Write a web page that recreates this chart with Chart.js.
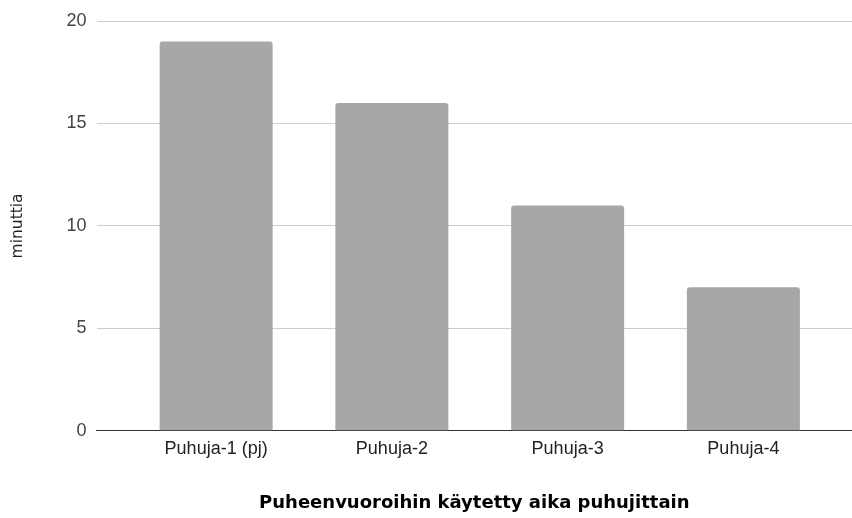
<!DOCTYPE html>
<html>
<head>
<meta charset="utf-8">
<script src="https://cdn.jsdelivr.net/npm/chart.js@4"></script>
<style>
  html, body { margin: 0; padding: 0; background: #fff; }
  #wrap { width: 852px; height: 518px; }
</style>
</head>
<body>
<div id="wrap"><canvas id="c" width="852" height="518"></canvas></div>
<script>
const categories = ['Puhuja-1 (pj)', 'Puhuja-2', 'Puhuja-3', 'Puhuja-4'];
const minutes = [19, 16, 11, 7];
const yTicks = [0, 5, 10, 15, 20];
const xTitle = 'Puheenvuoroihin käytetty aika puhujittain';
const yTitle = 'minuttia';

const points = minutes.map((v, i) => ({ x: i, y: v }));

new Chart(document.getElementById('c'), {
  type: 'bar',
  data: {
    datasets: [{
      data: points,
      backgroundColor: '#a7a7a7',
      borderRadius: 3,
      borderSkipped: 'bottom',
      barPercentage: 0.643,
      categoryPercentage: 1
    }]
  },
  options: {
    responsive: false,
    animation: false,
    layout: { padding: { top: 21, right: 0, bottom: 0, left: 0 } },
    plugins: { legend: { display: false }, tooltip: { enabled: false } },
    scales: {
      x: {
        type: 'linear',
        offset: false,
        min: -0.68,
        max: 3.618,
        afterBuildTicks: s => { s.ticks = categories.map((_, i) => ({ value: i })); },
        grid: { display: false, drawTicks: false },
        border: { display: true, color: '#333', width: 1 },
        ticks: {
          padding: 7,
          color: '#222',
          maxRotation: 0,
          autoSkip: false,
          font: { family: 'Liberation Sans, Arial', size: 18 },
          callback: v => categories[v] ?? ''
        },
        title: {
          display: true,
          text: xTitle,
          color: '#000',
          font: { family: 'DejaVu Sans', size: 18, weight: 'bold' },
          padding: { top: 26, bottom: 4 }
        }
      },
      y: {
        min: 0,
        max: 20,
        afterBuildTicks: s => { s.ticks = yTicks.map(v => ({ value: v })); },
        grid: {
          color: c => c.tick && c.tick.value === 0 ? '#333' : '#cccccc',
          drawTicks: false
        },
        border: { display: false },
        ticks: {
          padding: 10,
          color: '#444',
          font: { family: 'Liberation Sans, Arial', size: 18 }
        },
        title: {
          display: true,
          text: yTitle,
          color: '#222',
          font: { family: 'DejaVu Sans', size: 15.5 },
          padding: { top: 9, bottom: 29 }
        }
      }
    }
  }
});
</script>
</body>
</html>
